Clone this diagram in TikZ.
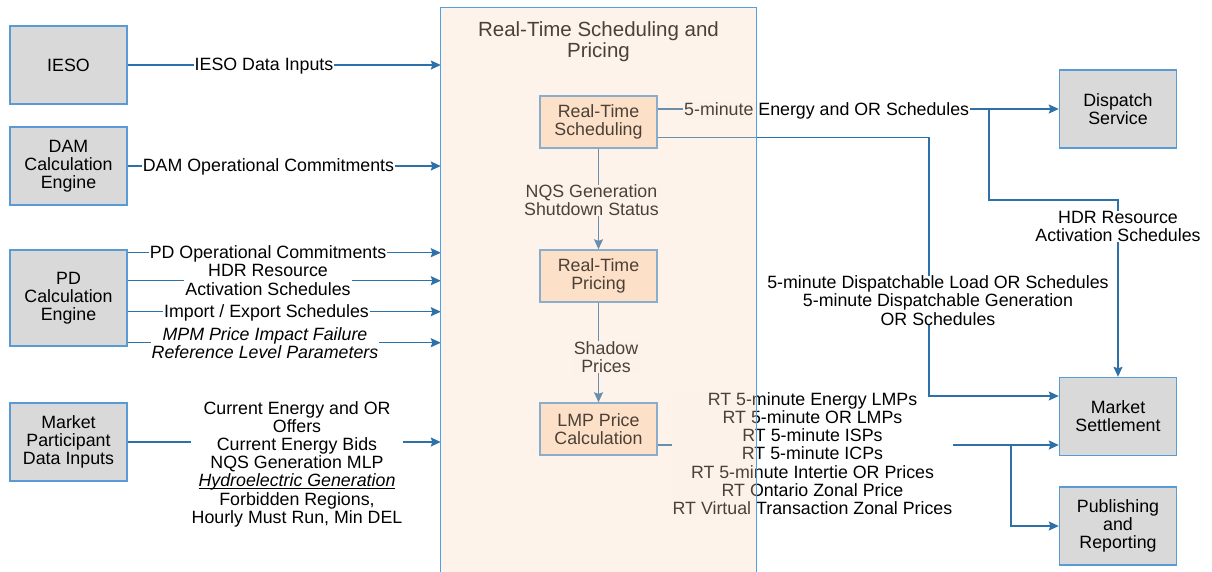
\documentclass[tikz,border=0pt]{standalone}
\usepackage{fontspec}
\setmainfont{Liberation Sans}
\usetikzlibrary{arrows.meta,calc}
\definecolor{boxgray}{RGB}{217,217,217}
\definecolor{boxline}{RGB}{91,155,213}
\definecolor{connline}{RGB}{46,112,168}
\definecolor{innerfill}{RGB}{255,229,206}
\definecolor{veil}{RGB}{248,215,185}
\definecolor{contline}{RGB}{80,160,225}
\newcommand\hul[1]{\setbox0=\hbox{#1}\rlap{\rule[-2.2pt]{\wd0}{0.8pt}}\box0}
\tikzset{
  txt/.style={font=\fontsize{17.8pt}{18.2pt}\selectfont, align=center, text=black},
  outerbox/.style={txt, draw=boxline, fill=boxgray, line width=1.4pt, minimum width=117pt, minimum height=78pt, inner sep=0pt},
  innerbox/.style={txt, draw=boxline, fill=innerfill, line width=1.4pt, minimum width=117pt, minimum height=52pt, inner sep=0pt},
  conn/.style={draw=connline, line width=1.3pt, -{Stealth[length=10pt,width=9pt,inset=1.5pt]}},
  lbl/.style={txt, fill=white, inner xsep=1pt, inner ysep=0pt},
  itlbl/.style={lbl, font=\fontsize{17.8pt}{18.2pt}\selectfont\itshape},
}
\begin{document}
\begin{tikzpicture}[x=1pt,y=-1pt]
\useasboundingbox (0,0) rectangle (1212,571);
% container frame (drawn later as a veil)
\node[minimum width=315pt, minimum height=590pt, inner sep=0pt] (cont) at (598.5,303) {};

% outer boxes
\node[outerbox] (ieso) at (68.5,65) {IESO};
\node[outerbox] (dam) at (68.5,166) {DAM\\Calculation\\Engine};
\node[outerbox, minimum height=96pt] (pd) at (68.5,298) {PD\\Calculation\\Engine};
\node[outerbox] (mp) at (68.5,442) {Market\\Participant\\Data Inputs};
\node[outerbox] (disp) at (1118,109) {Dispatch\\Service};
\node[outerbox] (ms) at (1118,416.5) {Market\\Settlement};
\node[outerbox] (pub) at (1118,526) {Publishing\\and\\Reporting};

% inner boxes
\node[innerbox] (rts) at (598.5,122) {Real-Time\\Scheduling};
\node[innerbox] (rtp) at (598.5,276) {Real-Time\\Pricing};
\node[innerbox] (lmp) at (598.5,429) {LMP Price\\Calculation};

% left inputs
\draw[conn] (ieso.east) -- (ieso.east -| cont.west);
\node[lbl] (lieso) at (264,66) {IESO Data Inputs};
\draw[conn] (dam.east) -- (dam.east -| cont.west);
\node[lbl] (ldam) at (268.5,166.5) {DAM Operational Commitments};

\coordinate (p1) at ([yshift=45.3pt]pd.east);
\coordinate (p2) at ([yshift=17.3pt]pd.east);
\coordinate (p3) at ([yshift=-13.7pt]pd.east);
\coordinate (p4) at ([yshift=-44.7pt]pd.east);
\draw[conn] (p1) -- (p1 -| cont.west);
\draw[conn] (p2) -- (p2 -| cont.west);
\draw[conn] (p3) -- (p3 -| cont.west);
\draw[conn] (p4) -- (p4 -| cont.west);
\node[lbl] (lpd1) at (268,253.5) {PD Operational Commitments};
\node[lbl] (lpd2) at (268,280) {HDR Resource\\Activation Schedules};
\node[lbl] (lpd3) at (266.5,312.5) {Import / Export Schedules};
\node[itlbl] (lpd4) at (265,343.5) {MPM Price Impact Failure\\Reference Level Parameters};

\draw[conn] (mp.east) -- (mp.east -| cont.west);
\node[lbl] (lmpin) at (297,464) {Current Energy and OR\\Offers\\Current Energy Bids\\NQS Generation MLP\\\hul{\textit{Hydroelectric Generation}}\\Forbidden Regions,\\Hourly Must Run, Min DEL};

% internal flow
\draw[conn] (rts.south) -- (rtp.north);
\node[lbl] (lnqs) at (591.5,200.5) {NQS Generation\\Shutdown Status};
\draw[conn] (rtp.south) -- (lmp.north);
\node[lbl] (lsh) at (606,357) {Shadow\\Prices};

% prices
\coordinate (q1) at ([yshift=-16pt]lmp.east);
\draw[conn] (q1) -- (q1 -| ms.west);
\coordinate (b2) at (1011,445);
\draw[conn] (b2) |- (pub.west);
\node[lbl] (lprices) at (812.5,453.5) {RT 5-minute Energy LMPs\\RT 5-minute OR LMPs\\RT 5-minute ISPs\\RT 5-minute ICPs\\RT 5-minute Intertie OR Prices\\RT Ontario Zonal Price\\RT Virtual Transaction Zonal Prices};

% schedules to dispatch
\draw[conn] (rts.east |- disp.west) -- (disp.west);
\node[lbl] (l5e) at (826.7,110.5) {5-minute Energy and OR Schedules};
\coordinate (b1) at (989,109);
\coordinate (b1d) at (989,200);
\draw[conn] (b1) -- (b1d) -| (ms.north);
\node[lbl] (lhdr) at (1118,226.5) {HDR Resource\\Activation Schedules};

% dispatchable schedules to settlement
\coordinate (r2) at ([yshift=-15.3pt]rts.east);
\coordinate (c2) at (929,396);
\draw[conn] (r2) -| (c2) -- (c2 -| ms.west);
\node[lbl] (ldisp) at (938,300.5) {5-minute Dispatchable Load OR Schedules\\5-minute Dispatchable Generation\\OR Schedules};

% container title
\node[font=\fontsize{20.5pt}{21pt}\selectfont, align=center, text=black] (title) at (598.5,42) {Real-Time Scheduling and\\Pricing};

% container veil and frame
\fill[veil, fill opacity=0.3] (cont.south west) rectangle (cont.north east);
\draw[contline, line width=1.3pt] (cont.south west) rectangle (cont.north east);
\end{tikzpicture}
\end{document}
